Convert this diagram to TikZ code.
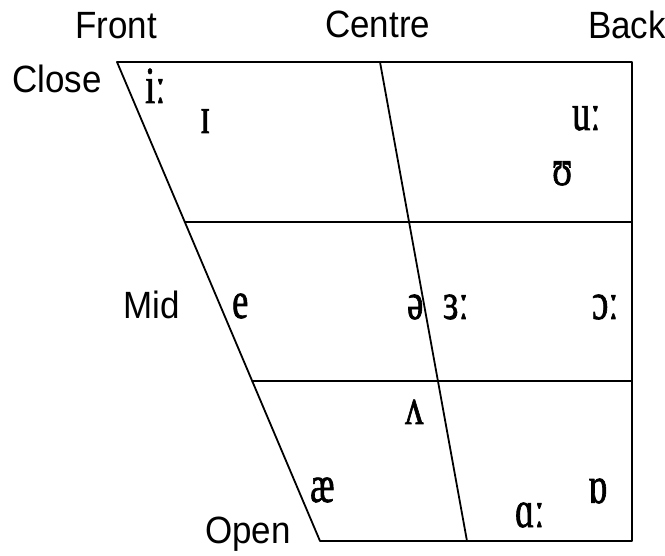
\documentclass[tikz,border=0pt]{standalone}
\usepackage{fontspec}
\usetikzlibrary{calc}
\newfontfamily\labfont[FakeStretch=0.92]{Liberation Sans}
\newfontfamily\ipafont[FakeStretch=0.7,FakeBold=1.2]{Liberation Serif}
\begin{document}
\begin{tikzpicture}[x=1pt,y=-1pt,
  lab/.style={anchor=base west,inner sep=0pt,font=\labfont\fontsize{38}{40}\selectfont},
  ipa/.style={anchor=base west,inner sep=0pt,font=\ipafont\fontsize{52}{56}\selectfont},
  edge/.style={line width=1.8pt,line cap=round,line join=round}]
\useasboundingbox (0,0) rectangle (665,556);
% frame corners
\coordinate (TL) at (117,62);
\coordinate (TR) at (632,62);
\coordinate (BR) at (632,541);
\coordinate (BL) at (320,541);
\coordinate (CT) at (380,62);
\coordinate (CB) at (467,541);
\coordinate (L1) at ($(TL)!1/3!(BL)$);
\coordinate (L2) at ($(TL)!2/3!(BL)$);
\coordinate (R1) at ($(TR)!1/3!(BR)$);
\coordinate (R2) at ($(TR)!2/3!(BR)$);
\draw[edge] (TL) -- (TR) -- (BR) -- (BL) -- cycle;
\draw[edge] (CT) -- (CB);
\draw[edge] (L1) -- (R1);
\draw[edge] (L2) -- (R2);
% axis labels
\node[lab] (front) at (75,39) {Front};
\node[lab] (centre) at (325,38) {Centre};
\node[lab] (back) at (588,39) {Back};
\node[lab] (close) at (12,93) {Close};
\node[lab] (mid) at (123,319) {Mid};
\node[lab] (open) at (205,543) {Open};
% vowels
\node[ipa] (ii) at (145,103) {iː};
\node[ipa] (I) at (200,133) {ɪ};
\node[ipa] (uu) at (572,130) {uː};
\node[ipa] (U) at (552,185) {ʊ};
\node[ipa] (e) at (232,318) {e};
\node[ipa] (schwa) at (407,319) {ə};
\node[ipa] (er) at (443,319) {ɜː};
\node[ipa] (oo) at (592,319) {ɔː};
\node[ipa] (V) at (405,424) {ʌ};
\node[ipa] (ae) at (310,502) {æ};
\node[ipa] (O) at (588,503) {ɒ};
\node[ipa] (aa) at (515,527) {ɑː};
\end{tikzpicture}
\end{document}
